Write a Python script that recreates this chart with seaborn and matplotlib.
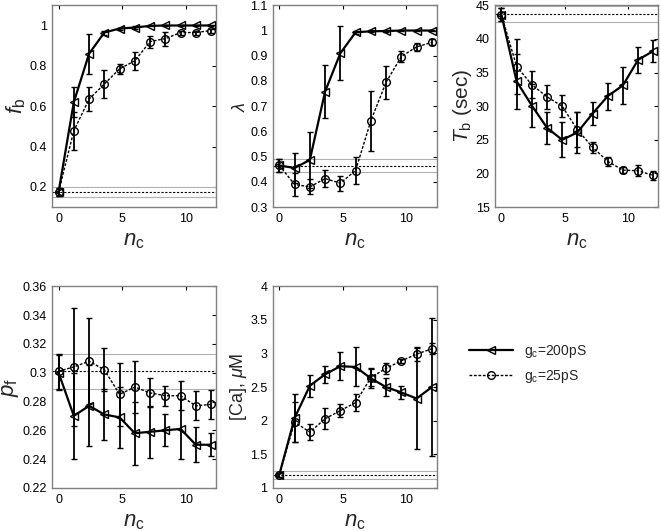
import numpy as np
import pandas as pd
import seaborn as sns
import matplotlib
matplotlib.use("Agg")
import matplotlib.pyplot as plt
from matplotlib.ticker import FormatStrFormatter
from matplotlib.lines import Line2D

sns.set_style("white")
plt.rcParams['font.family'] = ['Liberation Sans', 'DejaVu Sans']
plt.rcParams['mathtext.fontset'] = 'custom'
plt.rcParams['mathtext.rm'] = 'Liberation Sans'
plt.rcParams['mathtext.it'] = 'Liberation Sans:italic'

# number of channels
nc = [0, 1.2, 2.4, 3.6, 4.8, 6, 7.2, 8.4, 9.6, 10.8, 12]
groups = ["g$_{\\rm c}$=200pS", "g$_{\\rm c}$=25pS"]

# f_b
fb_200 = [0.175, 0.62, 0.86, 0.965, 0.985, 0.99, 0.998, 1.0, 1.0, 1.0, 1.0]
fb_200_err = [0.02, 0.075, 0.1, 0.01, 0.005, 0.005, 0.003, 0.002, 0.002, 0.002, 0.002]
fb_25 = [0.175, 0.478, 0.635, 0.71, 0.785, 0.825, 0.92, 0.935, 0.965, 0.965, 0.975]
fb_25_err = [0.02, 0.095, 0.06, 0.07, 0.025, 0.045, 0.03, 0.035, 0.01, 0.01, 0.01]

# lambda
lam_200 = [0.465, 0.455, 0.487, 0.758, 0.91, 0.993, 0.997, 0.998, 1.0, 1.0, 1.0]
lam_200_err = [0.025, 0.06, 0.11, 0.105, 0.107, 0.005, 0.004, 0.003, 0.002, 0.002, 0.002]
lam_25 = [0.465, 0.39, 0.38, 0.413, 0.395, 0.445, 0.642, 0.795, 0.897, 0.935, 0.953]
lam_25_err = [0.025, 0.045, 0.03, 0.035, 0.03, 0.055, 0.12, 0.065, 0.02, 0.015, 0.012]

# T_b
tb_200 = [43.6, 33.7, 30.1, 26.8, 25.0, 26.1, 28.9, 31.5, 33.1, 36.9, 38.2]
tb_200_err = [1.0, 4.1, 3.2, 2.4, 2.6, 3.1, 1.7, 2.0, 2.7, 1.9, 1.6]
tb_25 = [43.6, 35.9, 33.2, 31.4, 30.0, 26.5, 23.9, 21.8, 20.5, 20.4, 19.7]
tb_25_err = [1.0, 4.1, 2.0, 1.8, 1.6, 2.6, 0.8, 0.7, 0.5, 0.8, 0.6]

# p_f
pf_200 = [0.300, 0.270, 0.277, 0.271, 0.269, 0.258, 0.259, 0.260, 0.261, 0.250, 0.250]
pf_200_err = [0.012, 0.03, 0.028, 0.018, 0.021, 0.022, 0.018, 0.011, 0.021, 0.012, 0.008]
pf_25 = [0.301, 0.304, 0.308, 0.302, 0.285, 0.290, 0.286, 0.284, 0.284, 0.277, 0.278]
pf_25_err = [0.012, 0.041, 0.030, 0.015, 0.022, 0.018, 0.010, 0.007, 0.010, 0.010, 0.010]

# [Ca]
ca_200 = [1.2, 2.04, 2.52, 2.69, 2.81, 2.80, 2.63, 2.50, 2.42, 2.33, 2.50]
ca_200_err = [0.03, 0.36, 0.16, 0.13, 0.21, 0.29, 0.15, 0.13, 0.09, 0.75, 1.02]
ca_25 = [1.2, 1.98, 1.83, 2.03, 2.15, 2.27, 2.64, 2.78, 2.89, 2.99, 3.07]
ca_25_err = [0.03, 0.3, 0.12, 0.16, 0.1, 0.12, 0.13, 0.08, 0.03, 0.1, 0.08]

# baseline (nc=0) mean and band
base = {
    "fb": (0.175, 0.15, 0.2),
    "lam": (0.463, 0.438, 0.49),
    "tb": (43.7, 42.5, 44.9),
    "pf": (0.301, 0.289, 0.313),
    "ca": (1.2, 1.14, 1.26),
}

panels = [
    ("fb", fb_200, fb_200_err, fb_25, fb_25_err, r"$\it{f}_{\rm b}$", 16, (0.1, 1.1), [0.2, 0.4, 0.6, 0.8, 1.0]),
    ("lam", lam_200, lam_200_err, lam_25, lam_25_err, r"$\lambda$", 13, (0.3, 1.1), [0.3, 0.4, 0.5, 0.6, 0.7, 0.8, 0.9, 1.0, 1.1]),
    ("tb", tb_200, tb_200_err, tb_25, tb_25_err, r"$\it{T}_{\rm b}$ (sec)", 15, (15, 45), [15, 20, 25, 30, 35, 40, 45]),
    ("pf", pf_200, pf_200_err, pf_25, pf_25_err, r"$\it{p}_{\rm f}$", 16, (0.22, 0.36), [0.22, 0.24, 0.26, 0.28, 0.30, 0.32, 0.34, 0.36]),
    ("ca", ca_200, ca_200_err, ca_25, ca_25_err, r"[Ca], $\mu$M", 13, (1, 4), [1, 1.5, 2, 2.5, 3, 3.5, 4]),
]

positions = [
    [0.079, 0.610, 0.248, 0.380],
    [0.413, 0.610, 0.248, 0.380],
    [0.749, 0.610, 0.247, 0.380],
    [0.079, 0.081, 0.248, 0.380],
    [0.413, 0.081, 0.248, 0.380],
]

fig = plt.figure(figsize=(6.61, 5.31), dpi=100)

for pos, (key, y1, e1, y2, e2, ylab, yfs, ylim, yt) in zip(positions, panels):
    ax = fig.add_axes(pos)
    m, lo, hi = base[key]
    ax.axhline(lo, color="#b0b0b0", lw=0.8, zorder=1)
    ax.axhline(hi, color="#b0b0b0", lw=0.8, zorder=1)
    ax.axhline(m, color="black", lw=0.8, ls=(0, (2, 1.5)), zorder=1)

    df = pd.DataFrame({
        "nc": nc + nc,
        "val": y1 + y2,
        "g": [groups[0]] * len(nc) + [groups[1]] * len(nc),
    })
    sns.lineplot(data=df, x="nc", y="val", hue="g", style="g",
                 palette=["black", "black"], markers=["<", "o"],
                 dashes=[(1, 0), (2, 1.2)], markersize=5.5,
                 markerfacecolor="none", markeredgecolor="black",
                 markeredgewidth=1.0, ax=ax, legend=False, zorder=3)
    for line, lw in zip(ax.lines[-2:], [1.6, 1.0]):
        line.set_linewidth(lw)
    ax.errorbar(nc, y1, yerr=e1, fmt="none", ecolor="black", elinewidth=1.3, capsize=2, capthick=1.0, zorder=2)
    ax.errorbar(nc, y2, yerr=e2, fmt="none", ecolor="black", elinewidth=1.3, capsize=2, capthick=1.0, zorder=2)

    ax.set_xlim(-0.5, 12.4)
    ax.set_ylim(*ylim)
    ax.set_xticks([0, 5, 10])
    ax.set_yticks(yt)
    ax.yaxis.set_major_formatter(FormatStrFormatter("%g"))
    ax.tick_params(direction="in", length=3, labelsize=9, pad=4, colors="black", top=True, right=True)
    for s in ax.spines.values():
        s.set_color("#808080")
        s.set_linewidth(1.0)
    ax.set_xlabel(r"$\it{n}_{\rm c}$", fontsize=16, labelpad=4)
    ax.set_ylabel(ylab, fontsize=yfs, labelpad=1)

# legend
handles = [
    Line2D([], [], color="black", lw=1.6, marker="<", markersize=5.5, markerfacecolor="none"),
    Line2D([], [], color="black", lw=1.0, ls=(0, (2, 1.2)), marker="o", markersize=5.5, markerfacecolor="none"),
]
fig.legend(handles, groups, loc="center left", bbox_to_anchor=(0.69, 0.315),
           frameon=False, fontsize=10, handlelength=3.2, labelspacing=0.6)

fig.savefig("out.png", dpi=100)
